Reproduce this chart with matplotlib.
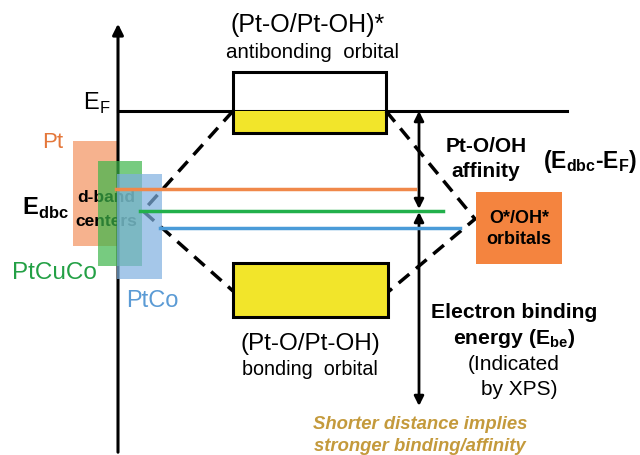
import matplotlib.pyplot as plt
from matplotlib.patches import Rectangle

plt.rcParams['font.family'] = ['Liberation Sans', 'DejaVu Sans']

# alloy d-band boxes: name, colour, text colour, x0, x1, y_top, y_bottom, d-band centre level
alloys = ['Pt', 'PtCuCo', 'PtCo']
box_colors = ['#F5A57A', '#3DB54A', '#7FB0E0']
text_colors = ['#E4773A', '#23A045', '#5B9BD5']
line_colors = ['#F0884A', '#22B04B', '#4A9BD8']
box_x = [(73, 117), (98, 142), (117, 162)]
box_y = [(142, 247), (162, 267), (175, 280)]
center_y = [190, 212, 229]
line_x = [(116, 415), (140, 443), (160, 460)]

e_fermi = 112
antibond = (233, 73, 386, 134)   # x0, y0, x1, y1
bond = (233, 264, 388, 318)
oh_box = (476, 193, 562, 265)

fig = plt.figure(figsize=(6.4, 4.56), dpi=100)
ax = fig.add_axes([0, 0, 1, 1])
ax.set_xlim(0, 640)
ax.set_ylim(456, 0)
ax.axis('off')

# energy axis
ax.annotate('', xy=(118, 22), xytext=(118, 456),
            arrowprops=dict(arrowstyle='-|>', lw=2.2, color='black', mutation_scale=16))
ax.plot([118, 567], [e_fermi, e_fermi], color='black', lw=2.2)
ax.text(83, 103, r'E$_\mathregular{F}$', fontsize=17, ha='left', va='center')

# antibonding box
x0, y0, x1, y1 = antibond
ax.add_patch(Rectangle((x0, e_fermi), x1 - x0, y1 - e_fermi, fc='#F2E52A', ec='none', zorder=2))
ax.add_patch(Rectangle((x0, y0), x1 - x0, y1 - y0, fc='none', ec='black', lw=2.2, zorder=3))
ax.text(308, 25, '(Pt-O/Pt-OH)*', fontsize=18, ha='center', va='center')
ax.text(313, 52, 'antibonding  orbital', fontsize=14.8, ha='center', va='center')

# bonding box
x0, y0, x1, y1 = bond
ax.add_patch(Rectangle((x0, y0), x1 - x0, y1 - y0, fc='#F2E52A', ec='black', lw=2.2, zorder=3))
ax.text(310, 344, '(Pt-O/Pt-OH)', fontsize=17.5, ha='center', va='center')
ax.text(310, 370, 'bonding  orbital', fontsize=14.2, ha='center', va='center')

# O*/OH* orbitals
x0, y0, x1, y1 = oh_box
ax.add_patch(Rectangle((x0, y0), x1 - x0, y1 - y0, fc='#F4843F', ec='none', zorder=3))
ax.text((x0 + x1) / 2, (y0 + y1) / 2, 'O*/OH*\norbitals', fontsize=13, fontweight='bold',
        ha='center', va='center', linespacing=1.3, zorder=4)

# dashed correlation lines
dash = dict(color='black', lw=2.5, ls=(0, (4, 2.5)), zorder=2)
ax.plot([233, 143, 233], [112, 212, 292], **dash)
ax.plot([386, 475, 388], [112, 220, 293], **dash)

# d-band boxes and centres
ax.add_patch(Rectangle((box_x[0][0], box_y[0][0]), box_x[0][1] - box_x[0][0],
                       box_y[0][1] - box_y[0][0], fc=box_colors[0], ec='none', alpha=0.85, zorder=1))
ax.text(106, 198, 'd-band', fontsize=12.5, fontweight='bold', ha='center', va='center', zorder=1.5)
ax.text(106, 222, 'centers', fontsize=12.5, fontweight='bold', ha='center', va='center', zorder=1.5)
for i in (1, 2):
    ax.add_patch(Rectangle((box_x[i][0], box_y[i][0]), box_x[i][1] - box_x[i][0],
                           box_y[i][1] - box_y[i][0], fc=box_colors[i], ec='none', alpha=0.7, zorder=4))
for i in range(3):
    ax.plot(line_x[i], [center_y[i], center_y[i]], color=line_colors[i], lw=2.5, zorder=5)

ax.text(53, 143, alloys[0], fontsize=16, color=text_colors[0], ha='center', va='center')
ax.text(54, 273, alloys[1], fontsize=17.5, color=text_colors[1], ha='center', va='center')
ax.text(152, 301, alloys[2], fontsize=17, color=text_colors[2], ha='center', va='center')
ax.text(45, 208, r'E$_\mathregular{dbc}$', fontsize=17, fontweight='bold', ha='center', va='center')

# affinity arrows
ax.annotate('', xy=(419, e_fermi), xytext=(419, 210),
            arrowprops=dict(arrowstyle='<|-|>', lw=2, color='black', mutation_scale=14,
                            shrinkA=0, shrinkB=0))
ax.annotate('', xy=(419, 407), xytext=(419, 213),
            arrowprops=dict(arrowstyle='<|-|>', lw=2, color='black', mutation_scale=14,
                            shrinkA=0, shrinkB=0))

ax.text(486, 147, 'Pt-O/OH', fontsize=15, fontweight='bold', ha='center', va='center')
ax.text(486, 172, 'affinity', fontsize=15, fontweight='bold', ha='center', va='center')
ax.text(590, 162, r'(E$_\mathregular{dbc}$-E$_\mathregular{F}$)', fontsize=16.5, fontweight='bold',
        ha='center', va='center')

ax.text(514, 313, 'Electron binding', fontsize=15.2, fontweight='bold', ha='center', va='center')
ax.text(514, 339, r'energy (E$_\mathregular{be}$)', fontsize=15.2, fontweight='bold', ha='center', va='center')
ax.text(514, 365, '(Indicated', fontsize=15, ha='center', va='center')
ax.text(519, 390, 'by XPS)', fontsize=15, ha='center', va='center')

ax.text(420, 425, 'Shorter distance implies', fontsize=13.3, fontweight='bold', style='italic',
        color='#C49A3C', ha='center', va='center')
ax.text(420, 447, 'stronger binding/affinity', fontsize=13.3, fontweight='bold', style='italic',
        color='#C49A3C', ha='center', va='center')

fig.savefig('out.png', dpi=100)
